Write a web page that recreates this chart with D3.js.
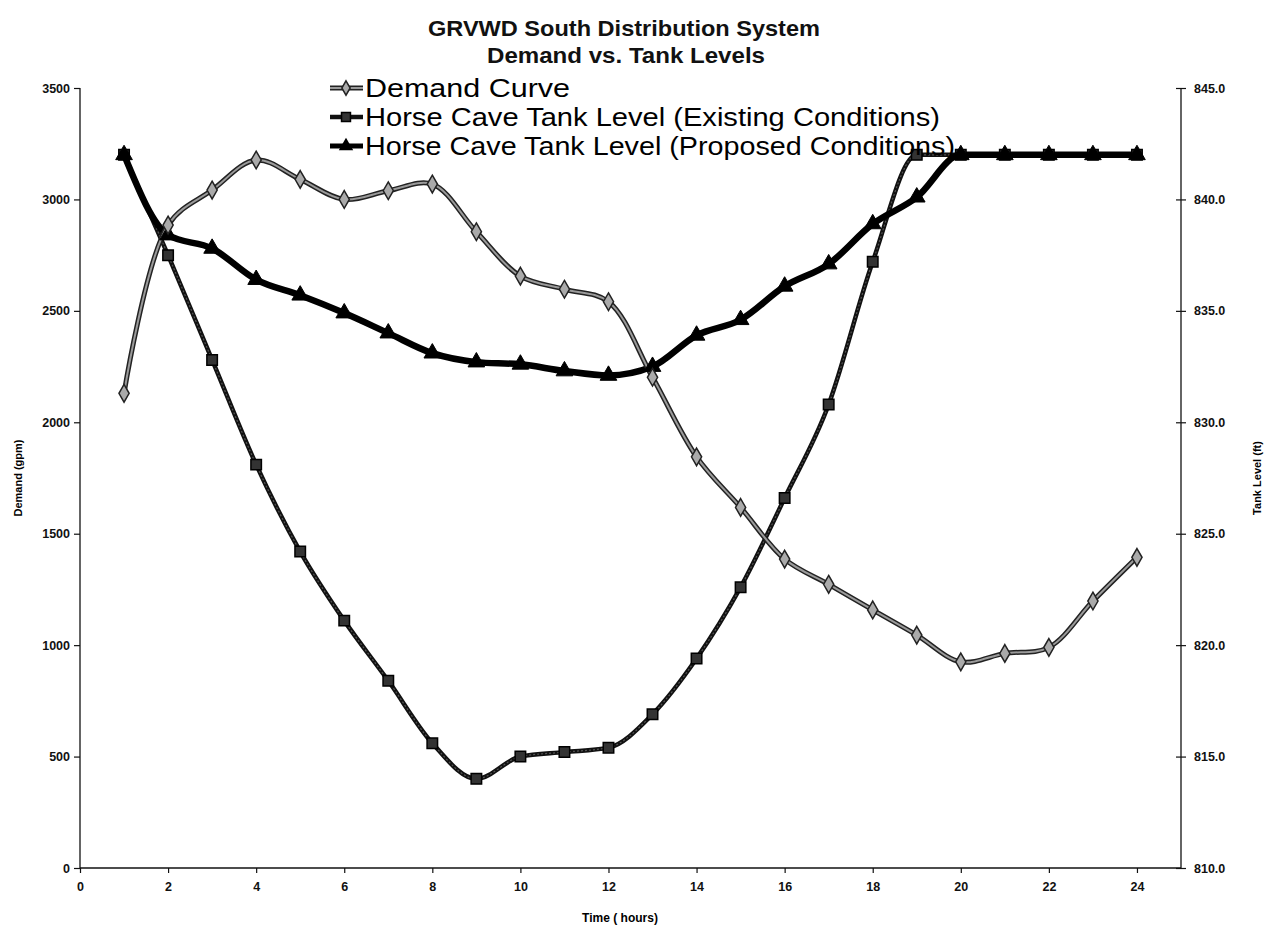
<!DOCTYPE html>
<html>
<head>
<meta charset="utf-8">
<script src="https://cdn.jsdelivr.net/npm/d3@7/dist/d3.min.js"></script>
<style>
  html, body { margin: 0; padding: 0; background: #fff; }
  svg { display: block; font-family: "Liberation Sans", Arial, sans-serif; }
</style>
</head>
<body>
<svg id="chart" width="1271" height="929"></svg>
<script>
// ---- data ----
const hours = [1,2,3,4,5,6,7,8,9,10,11,12,13,14,15,16,17,18,19,20,21,22,23,24];
const demand = [2130,2885,3042,3177,3090,3000,3039,3069,2855,2656,2597,2541,2202,1845,1618,1386,1273,1158,1045,925,963,990,1198,1394];
const existing = [842.0,837.5,832.8,828.1,824.2,821.1,818.4,815.6,814.0,815.0,815.2,815.4,816.9,819.4,822.6,826.6,830.8,837.2,842.0,842.0,842.0,842.0,842.0,842.0];
const proposed = [842.0,838.4,837.8,836.4,835.7,834.9,834.0,833.1,832.7,832.6,832.3,832.1,832.5,833.9,834.6,836.1,837.1,838.9,840.1,842.0,842.0,842.0,842.0,842.0];
const xTicks = [0,2,4,6,8,10,12,14,16,18,20,22,24];
const leftTicks = [0,500,1000,1500,2000,2500,3000,3500];
const rightTicks = [810,815,820,825,830,835,840,845];
const titleLines = ["GRVWD South Distribution System", "Demand vs. Tank Levels"];
const seriesNames = ["Demand Curve", "Horse Cave Tank Level (Existing Conditions)", "Horse Cave Tank Level (Proposed Conditions)"];

// ---- layout ----
const svg = d3.select("#chart");
const x = d3.scaleLinear().domain([0, 25]).range([80, 1181]);
const yL = d3.scaleLinear().domain([0, 3500]).range([868, 88]);
const yR = d3.scaleLinear().domain([810, 845]).range([868, 88]);

// axes
const axL = svg.append("g").attr("transform", `translate(${x(0)},0)`)
  .call(d3.axisLeft(yL).tickValues(leftTicks).tickSize(6).tickPadding(4).tickFormat(d3.format("d")));
const axR = svg.append("g").attr("transform", `translate(${x(25)},0)`)
  .call(d3.axisRight(yR).tickValues(rightTicks).tickSize(5).tickPadding(8).tickFormat(d3.format(".1f")));
const axX = svg.append("g").attr("transform", `translate(0,${yL(0)})`)
  .call(d3.axisBottom(x).tickValues(xTicks).tickSize(5).tickPadding(9).tickFormat(d3.format("d")));
axR.selectAll(".tick line").attr("x1", -5).attr("x2", 5);
[axL, axR, axX].forEach(a => {
  a.selectAll(".domain").attr("stroke", "#111").attr("stroke-width", 1.3);
  a.selectAll(".tick line").attr("stroke", "#111").attr("stroke-width", 1.2);
  a.selectAll("text").attr("fill", "#111").style("font-size", "12.5px").style("font-weight", "bold")
    .style("font-family", "'Liberation Sans', Arial, sans-serif");
});
axL.select(".domain").attr("d", `M0,${yL(3500)}V${yL(0)}`);
axR.select(".domain").attr("d", `M0,${yR(845)}V${yR(810)}`);
axX.select(".domain").attr("d", `M${x(0)},0H${x(25)}`);

// axis titles
svg.append("text").attr("transform", `translate(22,${(yL(0)+yL(3500))/2}) rotate(-90)`)
  .attr("text-anchor", "middle").style("font-size", "11px").style("font-weight", "bold")
  .attr("fill", "#000").text("Demand (gpm)");
svg.append("text").attr("transform", `translate(1261,${(yL(0)+yL(3500))/2}) rotate(-90)`)
  .attr("text-anchor", "middle").style("font-size", "11px").style("font-weight", "bold")
  .attr("fill", "#000").text("Tank Level (ft)");
svg.append("text").attr("x", 620).attr("y", 922).attr("text-anchor", "middle")
  .style("font-size", "12px").style("font-weight", "bold").attr("fill", "#000").text("Time ( hours)");

// title
svg.append("text").attr("x", 624).attr("y", 36).attr("text-anchor", "middle")
  .style("font-size", "22px").style("font-weight", "bold").attr("fill", "#111")
  .attr("textLength", 392).attr("lengthAdjust", "spacingAndGlyphs").text(titleLines[0]);
svg.append("text").attr("x", 626).attr("y", 63).attr("text-anchor", "middle")
  .style("font-size", "22px").style("font-weight", "bold").attr("fill", "#111")
  .attr("textLength", 278).attr("lengthAdjust", "spacingAndGlyphs").text(titleLines[1]);

// lines
const dData = hours.map((h, i) => [h, demand[i]]);
const eData = hours.map((h, i) => [h, existing[i]]);
const pData = hours.map((h, i) => [h, proposed[i]]);

const lineD = d3.line().x(d => x(d[0])).y(d => yL(d[1])).curve(d3.curveCatmullRom.alpha(0.5));
const lineT = d3.line().x(d => x(d[0])).y(d => yR(d[1])).curve(d3.curveMonotoneX);

const g = svg.append("g");
// existing
g.append("path").datum(eData).attr("d", lineT).attr("fill", "none").attr("stroke", "#111").attr("stroke-width", 4.5).attr("stroke-linejoin", "round");
g.append("path").datum(eData).attr("d", lineT).attr("fill", "none").attr("stroke", "#555").attr("stroke-width", 1.2).attr("stroke-dasharray", "2,2");
// proposed
g.append("path").datum(pData).attr("d", lineT).attr("fill", "none").attr("stroke", "#000").attr("stroke-width", 6.5).attr("stroke-linejoin", "round");
// demand
g.append("path").datum(dData).attr("d", lineD).attr("fill", "none").attr("stroke", "#222").attr("stroke-width", 5).attr("stroke-linejoin", "round");
g.append("path").datum(dData).attr("d", lineD).attr("fill", "none").attr("stroke", "#9a9a9a").attr("stroke-width", 2);

// markers
const sym = (type, size) => d3.symbol().type(type).size(size)();
g.selectAll(".mE").data(eData).join("path").attr("class", "mE")
  .attr("transform", d => `translate(${x(d[0])},${yR(d[1])})`)
  .attr("d", sym(d3.symbolSquare, 110)).attr("fill", "#333").attr("stroke", "#000").attr("stroke-width", 1.5);
g.selectAll(".mP").data(pData).join("path").attr("class", "mP")
  .attr("transform", d => `translate(${x(d[0])},${yR(d[1])})`)
  .attr("d", sym(d3.symbolTriangle, 120)).attr("fill", "#000").attr("stroke", "#000").attr("stroke-width", 1);
g.selectAll(".mD").data(dData).join("path").attr("class", "mD")
  .attr("transform", d => `translate(${x(d[0])},${yL(d[1])})`)
  .attr("d", sym(d3.symbolDiamond, 90)).attr("fill", "#aaa").attr("stroke", "#222").attr("stroke-width", 1.5);

// legend
const legY = [88, 117, 146];
const legW = [205, 575, 590];
const leg = svg.append("g");
seriesNames.forEach((name, i) => {
  const y = legY[i];
  if (i === 0) {
    leg.append("line").attr("x1", 330).attr("x2", 363).attr("y1", y).attr("y2", y).attr("stroke", "#222").attr("stroke-width", 5);
    leg.append("line").attr("x1", 330).attr("x2", 363).attr("y1", y).attr("y2", y).attr("stroke", "#9a9a9a").attr("stroke-width", 2);
    leg.append("path").attr("transform", `translate(346,${y})`).attr("d", sym(d3.symbolDiamond, 60)).attr("fill", "#aaa").attr("stroke", "#222").attr("stroke-width", 1.5);
  } else if (i === 1) {
    leg.append("line").attr("x1", 330).attr("x2", 363).attr("y1", y).attr("y2", y).attr("stroke", "#111").attr("stroke-width", 4.5);
    leg.append("path").attr("transform", `translate(346,${y})`).attr("d", sym(d3.symbolSquare, 80)).attr("fill", "#333").attr("stroke", "#000").attr("stroke-width", 1.5);
  } else {
    leg.append("line").attr("x1", 330).attr("x2", 363).attr("y1", y).attr("y2", y).attr("stroke", "#000").attr("stroke-width", 5);
    leg.append("path").attr("transform", `translate(346,${y})`).attr("d", sym(d3.symbolTriangle, 90)).attr("fill", "#000");
  }
  leg.append("text").attr("x", 365).attr("y", y + 9).style("font-size", "26px").attr("fill", "#000")
    .attr("textLength", legW[i]).attr("lengthAdjust", "spacingAndGlyphs").text(name);
});
</script>
</body>
</html>
